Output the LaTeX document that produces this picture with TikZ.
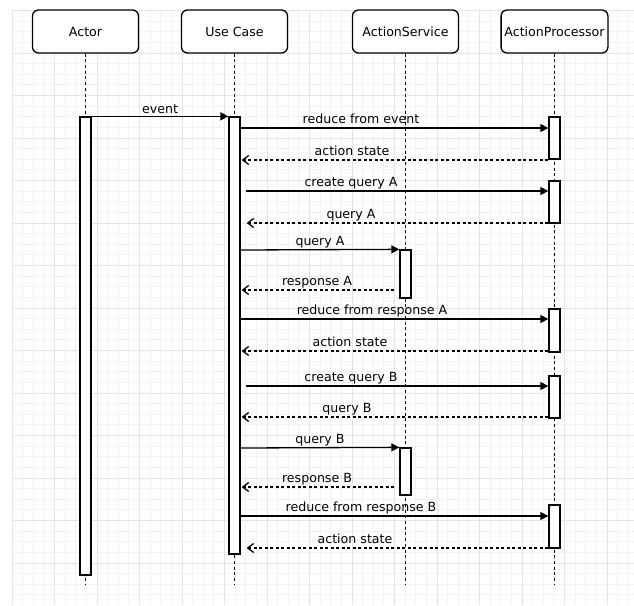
\documentclass[tikz,border=0pt]{standalone}
\usepackage{fontspec}
\setmainfont{DejaVu Sans}
\usetikzlibrary{arrows.meta}
\definecolor{gridmaj}{RGB}{228,228,228}
\definecolor{gridmin}{RGB}{243,243,243}
\tikzset{
  head/.style={draw, rounded corners=6pt, line width=1.3pt, minimum width=106pt, minimum height=43pt, fill=white, font=\fontsize{12.6}{15}\selectfont},
  bar/.style={draw, fill=white, line width=1.3pt, minimum width=11pt, inner sep=0pt},
  life/.style={line width=1.5pt, dash pattern=on 3pt off 2.7pt},
  msg/.style={line width=1.3pt, -{Triangle[length=8pt,width=8pt]}},
  ret/.style={line width=1.3pt, dash pattern=on 3pt off 2.5pt, -{Straight Barb[length=6pt,width=9pt]}},
  lbl/.style={anchor=base, inner sep=0pt, font=\fontsize{12.6}{15}\selectfont},
}
\begin{document}
\begin{tikzpicture}[x=1pt,y=-1pt]
\useasboundingbox (0,0) rectangle (634,605);
% griglia di sfondo
\foreach \i in {0,...,58} \draw[gridmin, line width=0.8pt] ({12+\i*10.625},10.5) -- ({12+\i*10.625},605);
\foreach \j in {0,...,55} \draw[gridmin, line width=0.8pt] (12,{10.5+\j*10.625}) -- (634,{10.5+\j*10.625});
\foreach \i in {0,...,14} \draw[gridmaj, line width=0.8pt] ({12+\i*42.5},10.5) -- ({12+\i*42.5},605);
\foreach \j in {0,...,13} \draw[gridmaj, line width=0.8pt] (12,{10.5+\j*42.5}) -- (634,{10.5+\j*42.5});

\node[head] (actor) at (85.5,31.5) {Actor}; % partecipanti
\node[head] (usecase) at (234.5,31.5) {Use Case};
\node[head] (service) at (405.5,31.5) {ActionService};
\node[head] (processor) at (554.5,31.5) {ActionProcessor};

\draw[life] (actor.south) -- (actor.south |- 0,585); % linee di vita
\draw[life] (usecase.south) -- (usecase.south |- 0,585);
\draw[life] (service.south) -- (service.south |- 0,585);
\draw[life] (processor.south) -- (processor.south |- 0,585);

\node[bar, minimum height=458pt] (actorbar) at (85.5,346) {}; % barre di attivazione
\node[bar, minimum height=437pt] (ucbar) at (234.5,335.5) {};
\node[bar, minimum height=42pt] (ap1) at (554.5,138) {};
\node[bar, minimum height=42pt] (ap2) at (554.5,202) {};
\node[bar, minimum height=48pt] (as1) at (405.5,274) {};
\node[bar, minimum height=43pt] (ap3) at (554.5,330.5) {};
\node[bar, minimum height=42pt] (ap4) at (554.5,397) {};
\node[bar, minimum height=47pt] (as2) at (405.5,471.5) {};
\node[bar, minimum height=43pt] (ap5) at (554.5,526.5) {};

\draw[msg] (actorbar.north east) -- (ucbar.north west) node[lbl] at (160,113.5) {event}; % messaggi
\draw[msg] (ucbar.east |- 0,128) -- (ap1.west |- 0,128) node[lbl] at (361,123.5) {reduce from event};
\draw[ret] (ap1.west |- 0,160) -- ([xshift=1pt]ucbar.east |- 0,160) node[lbl] at (352,155.5) {action state};
\draw[msg] ([xshift=5pt]ucbar.east |- 0,191) -- (ap2.west |- 0,191) node[lbl] at (351,186.5) {create query A};
\draw[ret] (ap2.west |- 0,223) -- ([xshift=6pt]ucbar.east |- 0,223) node[lbl] at (351,218.5) {query A};
\draw[msg] (ucbar.east |- 0,250) -- (as1.north west) node[lbl] at (320,245.5) {query A};
\draw[ret] ([xshift=-5pt]as1.west |- 0,290) -- ([xshift=1pt]ucbar.east |- 0,290) node[lbl] at (317,285.5) {response A};
\draw[msg] (ucbar.east |- 0,319) -- (ap3.west |- 0,319) node[lbl] at (372,314.5) {reduce from response A};
\draw[ret] (ap3.west |- 0,351) -- ([xshift=1pt]ucbar.east |- 0,351) node[lbl] at (350,346.5) {action state};
\draw[msg] ([xshift=5pt]ucbar.east |- 0,386) -- (ap4.west |- 0,386) node[lbl] at (351,381.5) {create query B};
\draw[ret] (ap4.west |- 0,417) -- ([xshift=1pt]ucbar.east |- 0,417) node[lbl] at (347,412.5) {query B};
\draw[msg] (ucbar.east |- 0,448) -- (as2.north west) node[lbl] at (320,443.5) {query B};
\draw[ret] ([xshift=-5pt]as2.west |- 0,487) -- ([xshift=1pt]ucbar.east |- 0,487) node[lbl] at (317,482.5) {response B};
\draw[msg] (ucbar.east |- 0,516) -- (ap5.west |- 0,516) node[lbl] at (361,511.5) {reduce from response B};
\draw[ret] (ap5.west |- 0,548) -- ([xshift=6pt]ucbar.east |- 0,548) node[lbl] at (355,543.5) {action state};
\end{tikzpicture}
\end{document}
